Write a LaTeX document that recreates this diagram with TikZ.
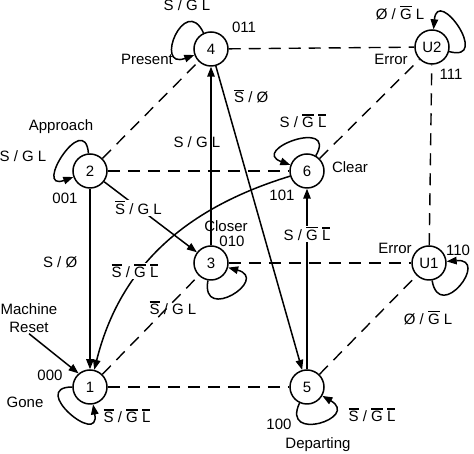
\documentclass[tikz,border=0pt]{standalone}
\usepackage{fontspec}
\setmainfont{Liberation Sans}
\usetikzlibrary{arrows.meta, positioning}

% letter with its own bar on top
\newcommand{\ovl}[1]{\sbox0{#1}\rlap{\rule[\dimexpr\ht0+1.6pt\relax]{\wd0}{1.3pt}}\usebox0}
% self loop leaving state #1 at angle #2, coming back at angle #3
\newcommand{\selfloop}[3]{\draw[trans] (#1.#2) .. controls +(#2:44) and +(#3:44) .. (#1.#3);}

\tikzset{
  state/.style={draw, circle, line width=1.5pt, minimum size=34pt, inner sep=0pt,
    font=\fontsize{15}{18}\selectfont},
  cube/.style={line width=1.4pt, dash pattern=on 12pt off 8pt},
  trans/.style={line width=1.5pt, -{Triangle[length=10pt,width=7.5pt]}},
  lbl/.style={font=\fontsize{15}{18}\selectfont, inner sep=1pt},
}

\begin{document}
\begin{tikzpicture}[x=1pt, y=1pt]
    \useasboundingbox (0,0) rectangle (474,454);

    % Front face states
    \node[state] (n1) at (90,67) {1};
    \node[state] (n2) at (90,283) {2};
    \node[state] (n5) at (307,67) {5};
    \node[state] (n6) at (307,283) {6};
    % Back face states
    \node[state] (n3) at (211,191) {3};
    \node[state] (n4) at (211,405) {4};
    \node[state] (u1) at (429,191) {U1};
    \node[state] (u2) at (432,407) {U2};

    % Cube edges
    \draw[cube] (n1) -- (n5);
    \draw[cube] (n1) -- (n3);
    \draw[cube] (n2) -- (n6);
    \draw[cube] (n2) -- (n4);
    \draw[cube] (n3) -- (u1);
    \draw[cube] (n4) -- (u2);
    \draw[cube] (n5) -- (u1);
    \draw[cube] (n6) -- (u2);
    \draw[cube] (u1) -- (u2);

    % Transitions
    \draw[trans] (n2) -- node[lbl, pos=.41, left=11pt] (t21) {S / Ø} (n1);
    \draw[trans] (n2) -- node[lbl, fill=white, pos=.37] (t23) {\ovl{S} / G L} (n3);
    \draw[trans] (n3) -- node[lbl, pos=.58, left=-11pt] (t34) {S / G L} (n4);
    \draw[trans] (n4) -- node[lbl, pos=.1, right=8pt] (t45) {\ovl{S} / Ø} (n5);
    \draw[trans] (n5) -- node[lbl, fill=white, pos=.75] (t56) {S / \ovl{G} \ovl{L}} (n6);
    \draw[trans] (n6) to[out=197, in=76] (n1);
    \node[lbl, fill=white] (t61) at (135,183) {\ovl{S} / \ovl{G} \ovl{L}};

    % Self loops
    \selfloop{n4}{115}{200}
    \selfloop{n2}{95}{200}
    \selfloop{n6}{60}{160}
    \selfloop{u2}{-15}{85}
    \selfloop{n3}{-100}{-15}
    \selfloop{u1}{-80}{5}
    \selfloop{n1}{180}{-80}
    \selfloop{n5}{-115}{-30}

    % Reset input
    \node[lbl, align=center] (reset) at (29,136) {Machine\\Reset};
    \draw[trans] (reset.south) -- (n1.130);

    % Loop labels, names and codes
    \node[lbl] (l4) at (187,449) {S / G L};
    \node[lbl] (c4) at (244,427) {011};
    \node[lbl] (s4) at (147,395) {Present};
    \node[lbl] (lu2) at (400,441) {Ø / \ovl{G} L};
    \node[lbl] (su2) at (391,395) {Error};
    \node[lbl] (cu2) at (451,380) {111};
    \node[lbl] (l6) at (303,333) {S / \ovl{G} \ovl{L}};
    \node[lbl] (s2) at (61,327) {Approach};
    \node[lbl] (l2) at (23,298) {S / G L};
    \node[lbl] (c2) at (65,256) {001};
    \node[lbl] (s3) at (226,228) {Closer};
    \node[lbl] (c3) at (232,213) {010};
    \node[lbl] (s6) at (350,287) {Clear};
    \node[lbl] (c6) at (282,259) {101};
    \node[lbl] (su1) at (395,206) {Error};
    \node[lbl] (cu1) at (458,204) {110};
    \node[lbl] (l3) at (173,146) {\ovl{S} / G L};
    \node[lbl] (lu1) at (428,136) {Ø / \ovl{G} L};
    \node[lbl] (c1) at (50,79) {000};
    \node[lbl] (s1) at (25,52) {Gone};
    \node[lbl] (l1) at (127,38) {\ovl{S} / \ovl{G} \ovl{L}};
    \node[lbl] (l5) at (372,39) {\ovl{S} / \ovl{G} \ovl{L}};
    \node[lbl] (c5) at (279,30) {100};
    \node[lbl] (s5) at (318,9) {Departing};
\end{tikzpicture}
\end{document}
